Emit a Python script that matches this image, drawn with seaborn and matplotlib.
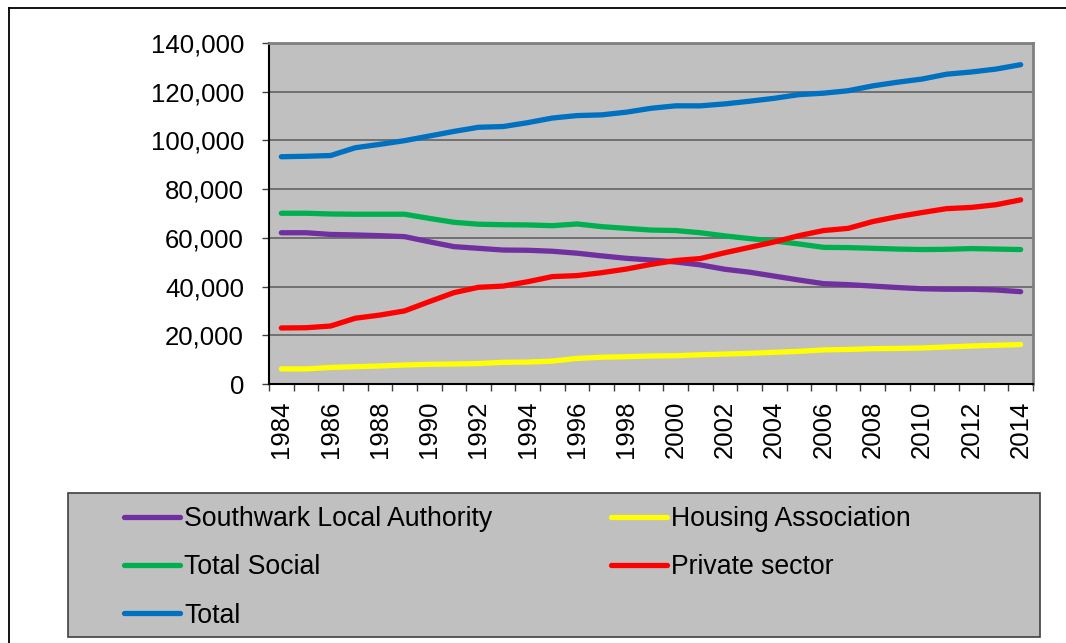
import numpy as np
import pandas as pd
import matplotlib
matplotlib.use('Agg')
import matplotlib.pyplot as plt
import seaborn as sns
from matplotlib.ticker import FuncFormatter, FixedLocator
from matplotlib.lines import Line2D
from matplotlib.patches import Rectangle

years = list(range(1984, 2015))

local_authority = [62100, 62100, 61400, 61200, 60900, 60500, 58400, 56400, 55700, 55000,
                   54900, 54500, 53700, 52600, 51600, 50900, 50100, 48900, 47100, 45900,
                   44300, 42700, 41200, 40800, 40200, 39600, 39100, 38900, 38900, 38600,
                   37900]
housing_assoc = [6200, 6200, 6800, 7100, 7400, 7800, 8100, 8200, 8400, 8900,
                 9000, 9400, 10500, 11000, 11200, 11500, 11600, 12000, 12300, 12600,
                 13000, 13400, 14000, 14200, 14500, 14600, 14800, 15200, 15600, 15900,
                 16200]
total_social = [70100, 70100, 69800, 69700, 69700, 69700, 68000, 66400, 65600, 65400,
                65300, 65000, 65700, 64600, 63900, 63200, 63000, 62100, 60800, 59700,
                58700, 57500, 56100, 56000, 55700, 55400, 55200, 55300, 55600, 55400,
                55200]
private_sector = [23000, 23100, 23800, 27000, 28300, 30000, 33800, 37500, 39700, 40200,
                  42000, 44100, 44500, 45700, 47200, 49100, 50700, 51500, 53900, 56100,
                  58300, 60900, 63000, 63900, 66700, 68700, 70400, 72000, 72500, 73600,
                  75600]
total = [93300, 93500, 93800, 97000, 98400, 99900, 101800, 103700, 105400, 105700,
         107300, 109200, 110200, 110500, 111600, 113200, 114200, 114200, 115000, 116100,
         117300, 118800, 119400, 120400, 122400, 123900, 125200, 127200, 128100, 129300,
         131100]

series = ['Southwark Local Authority', 'Housing Association', 'Total Social',
          'Private sector', 'Total']
colors = ['#7030A0', '#FFFF00', '#00B050', '#FF0000', '#0070C0']

df = pd.concat([
    pd.DataFrame({'year': years, 'value': vals, 'series': name})
    for name, vals in zip(series, [local_authority, housing_assoc, total_social,
                                   private_sector, total])
])

plt.rcParams['font.family'] = ['Liberation Sans', 'DejaVu Sans']

W, H = 1066, 643
LW = 3.8
fig = plt.figure(figsize=(W / 100, H / 100), dpi=100)
ax = fig.add_axes([269 / W, 1 - 384 / H, (1033 - 269) / W, (384 - 43) / H])
ax.set_facecolor('#C0C0C0')

sns.lineplot(data=df, x='year', y='value', hue='series', hue_order=series,
             palette=dict(zip(series, colors)), linewidth=LW, legend=False,
             solid_capstyle='round', solid_joinstyle='round', ax=ax, zorder=3)

ax.set_xlim(1983.5, 2014.5)
ax.set_ylim(0, 140000)
ax.set_xlabel('')
ax.set_ylabel('')

# y axis
ax.set_yticks(np.arange(0, 140001, 20000))
ax.yaxis.set_major_formatter(FuncFormatter(lambda v, p: f'{int(v):,}'))
ax.yaxis.grid(True, color='#6a6a6a', linewidth=1.3, zorder=1)
ax.set_axisbelow(True)
ax.tick_params(axis='y', direction='out', length=5, width=1, color='#404040',
               pad=13, labelsize=18.5)

# x axis: ticks between categories, labels at every other year
ax.xaxis.set_major_locator(FixedLocator(np.arange(1983.5, 2015, 1)))
ax.xaxis.set_major_formatter(FuncFormatter(lambda v, p: ''))
ax.xaxis.set_minor_locator(FixedLocator(years[::2]))
ax.xaxis.set_minor_formatter(FuncFormatter(lambda v, p: str(int(v))))
ax.tick_params(axis='x', which='major', direction='out', length=5, width=1,
               color='#404040')
ax.tick_params(axis='x', which='minor', length=0, pad=12, labelsize=18.5,
               labelrotation=90)

for s in ['left', 'bottom']:
    ax.spines[s].set_color('black')
    ax.spines[s].set_linewidth(1.5)
for s in ['top', 'right']:
    ax.spines[s].set_color('#808080')
    ax.spines[s].set_linewidth(2)

# outer border
fig.add_artist(Line2D([9 / W, 9 / W], [0, 1 - 8 / H], color='black', lw=1.3))
fig.add_artist(Line2D([9 / W, 1], [1 - 8 / H, 1 - 8 / H], color='black', lw=1.3))

# legend box
fig.add_artist(Rectangle((68 / W, 1 - 637 / H), (1040 - 68) / W, (637 - 493) / H,
                         facecolor='#C0C0C0', edgecolor='#404040', lw=1.2,
                         transform=fig.transFigure, zorder=0))
order = [0, 2, 4, 1, 3]
handles = [Line2D([], [], color=colors[i], lw=LW, solid_capstyle='round') for i in order]
labels = [series[i] for i in order]
fig.legend(handles, labels, loc='upper left', bbox_to_anchor=(124 / W, 1 - 506 / H),
           ncol=2, frameon=False, fontsize=19.2, handlelength=2.1, handletextpad=0.15,
           columnspacing=4.45, labelspacing=0.84, borderpad=0, borderaxespad=0)

fig.savefig('out.png', dpi=100)
